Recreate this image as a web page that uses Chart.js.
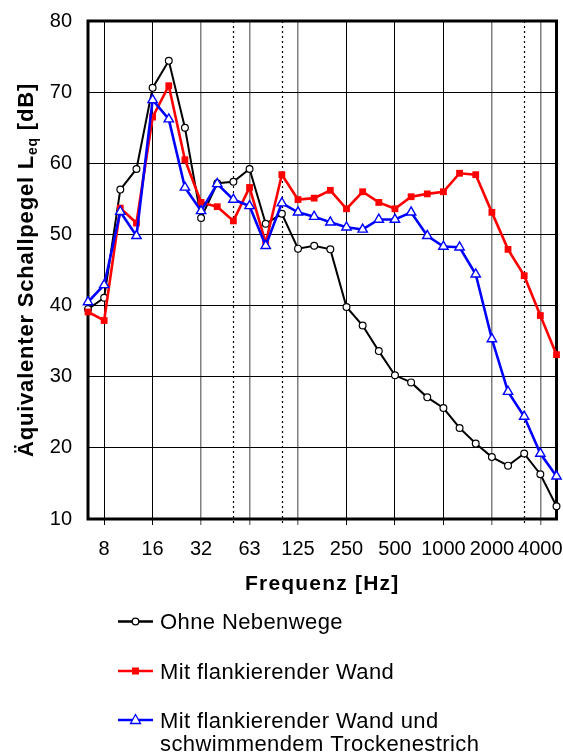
<!DOCTYPE html>
<html>
<head>
<meta charset="utf-8">
<script src="https://cdn.jsdelivr.net/npm/chart.js@4"></script>
<style>
  body { margin: 0; background: #fff; }
  #chart { display: block; }
</style>
</head>
<body>
<canvas id="chart" width="563" height="754"></canvas>
<script>
'use strict'

// terzbaender 6,3 Hz .. 5000 Hz
const frequencies = ['6.3', '8', '10', '12.5', '16', '20', '25', '31.5', '40', '50', '63', '80', '100', '125', '160',
  '200', '250', '315', '400', '500', '630', '800', '1000', '1250', '1600', '2000', '2500', '3150', '4000', '5000']

const ohneNebenwege = [39.5, 41.1, 56.3, 59.2, 70.6, 74.4, 65.0, 52.3, 57.2, 57.4, 59.2, 51.5, 52.9, 48.0, 48.4,
  47.9, 39.8, 37.2, 33.6, 30.2, 29.2, 27.1, 25.6, 22.8, 20.6, 18.7, 17.5, 19.2, 16.3, 11.8]

const mitWand = [39.1, 37.9, 53.7, 51.6, 66.5, 70.9, 60.5, 54.5, 53.9, 51.9, 56.6, 48.8, 58.4, 54.9, 55.1,
  56.2, 53.6, 56.0, 54.5, 53.6, 55.3, 55.7, 56.0, 58.6, 58.4, 53.1, 47.9, 44.2, 38.6, 33.1]

const mitWandEstrich = [40.5, 42.9, 53.2, 49.8, 68.9, 66.2, 56.6, 53.3, 57.1, 54.9, 54.0, 48.4, 54.4, 53.1, 52.5,
  51.7, 51.0, 50.7, 52.1, 52.1, 53.1, 49.8, 48.3, 48.2, 44.4, 35.3, 27.9, 24.4, 19.2, 16.0]

const labeledBands = ['8', '16', '31.5', '63', '125', '250', '500', '1000', '2000', '4000']
const tickText = ['8', '16', '32', '63', '125', '250', '500', '1000', '2000', '4000']
const grayBands = ['31.5', '63', '125', '2000', '4000']
const dottedBands = ['50', '100', '3150']

const yTicks = [10, 20, 30, 40, 50, 60, 70, 80]

const seriesNames = ['Ohne Nebenwege', 'Mit flankierender Wand', 'Mit flankierender Wand und\nschwimmendem Trockenestrich']

const FONT = 'Arial, "Liberation Sans", sans-serif'

const drawMarker = (ctx, style, x, y, color) => {
  ctx.save()
  ctx.lineWidth = 1.3
  ctx.strokeStyle = color
  ctx.beginPath()
  if (style === 'circle') {
    ctx.arc(x, y, 3.3, 0, Math.PI * 2)
    ctx.fillStyle = '#fff'
    ctx.fill()
    ctx.stroke()
  } else if (style === 'rect') {
    ctx.fillStyle = color
    ctx.fillRect(x - 3.5, y - 3.5, 7, 7)
  } else {
    ctx.moveTo(x, y - 5.5)
    ctx.lineTo(x + 5, y + 3.5)
    ctx.lineTo(x - 5, y + 3.5)
    ctx.closePath()
    ctx.fillStyle = '#fff'
    ctx.fill()
    ctx.stroke()
  }
  ctx.restore()
}

const extras = {
  id: 'extras',
  beforeDatasetsDraw (chart) {
    const { ctx, chartArea: a, scales } = chart
    ctx.save()
    // gepunktete linien
    ctx.strokeStyle = '#000'
    ctx.lineWidth = 1.2
    ctx.setLineDash([2, 3])
    dottedBands.forEach((b) => {
      const x = Math.round(scales.x.getPixelForValue(frequencies.indexOf(b))) + 0.5
      ctx.beginPath()
      ctx.moveTo(x, a.top)
      ctx.lineTo(x, a.bottom + 7)
      ctx.stroke()
    })
    ctx.setLineDash([])
    // rahmen
    ctx.lineWidth = 3
    ctx.strokeRect(a.left, a.top, a.right - a.left, a.bottom - a.top)
    ctx.restore()
  },
  afterDraw (chart) {
    const { ctx, chartArea: a } = chart
    ctx.save()
    ctx.fillStyle = '#000'

    // y titel mit index
    ctx.translate(33, (a.top + a.bottom) / 2)
    ctx.rotate(-Math.PI / 2)
    ctx.textBaseline = 'alphabetic'
    ctx.textAlign = 'left'
    ctx.letterSpacing = '0.8px'
    const main = 'Äquivalenter Schallpegel L'
    const sub = 'eq'
    const tail = ' [dB]'
    ctx.font = 'bold 22px ' + FONT
    const w1 = ctx.measureText(main).width
    const w3 = ctx.measureText(tail).width
    ctx.font = 'bold 14px ' + FONT
    const w2 = ctx.measureText(sub).width
    let px = -(w1 + w2 + w3) / 2
    ctx.font = 'bold 22px ' + FONT
    ctx.fillText(main, px, 0)
    px += w1
    ctx.font = 'bold 14px ' + FONT
    ctx.fillText(sub, px, 4)
    px += w2
    ctx.font = 'bold 22px ' + FONT
    ctx.fillText(tail, px, 0)
    ctx.restore()

    // x titel
    ctx.save()
    ctx.font = 'bold 21px ' + FONT
    ctx.letterSpacing = '1.2px'
    ctx.textAlign = 'center'
    ctx.textBaseline = 'middle'
    ctx.fillStyle = '#000'
    ctx.fillText('Frequenz [Hz]', (a.left + a.right) / 2, 584)

    // legende
    ctx.font = '22px ' + FONT
    ctx.letterSpacing = '0.4px'
    ctx.textAlign = 'left'
    ctx.textBaseline = 'alphabetic'
    const rows = [621.5, 671, 720]
    chart.data.datasets.forEach((ds, i) => {
      const y = rows[i]
      ctx.strokeStyle = ds.borderColor
      ctx.lineWidth = 2.5
      ctx.beginPath()
      ctx.moveTo(118, y)
      ctx.lineTo(153, y)
      ctx.stroke()
      drawMarker(ctx, ds.pointStyle, 135.5, y, ds.borderColor)
      ctx.fillStyle = '#000'
      seriesNames[i].split('\n').forEach((line, k) => {
        ctx.fillText(line, 160, y + 7.5 + k * 23)
      })
    })
    ctx.restore()
  }
}

const ctx = document.getElementById('chart')

const myChart = new Chart(ctx, {
  type: 'line',
  data: {
    labels: frequencies,
    datasets: [
      {
        label: seriesNames[0],
        data: ohneNebenwege,
        borderColor: '#000000',
        borderWidth: 2,
        pointStyle: 'circle',
        pointRadius: 3.4,
        pointBorderWidth: 1.2,
        pointBackgroundColor: '#ffffff',
        order: 2
      },
      {
        label: seriesNames[1],
        data: mitWand,
        borderColor: '#ff0000',
        borderWidth: 2.6,
        pointStyle: 'rect',
        pointRadius: 4.8,
        pointBorderWidth: 0,
        pointBackgroundColor: '#ff0000',
        order: 1
      },
      {
        label: seriesNames[2],
        data: mitWandEstrich,
        borderColor: '#0000ff',
        borderWidth: 2.6,
        pointStyle: 'triangle',
        pointRadius: 5.4,
        pointBorderWidth: 1.4,
        pointBackgroundColor: '#ffffff',
        order: 0
      }
    ]
  },
  options: {
    responsive: false,
    animation: false,
    events: [],
    layout: { autoPadding: false, padding: { top: 21, right: 6.5, left: 0, bottom: 0 } },
    elements: { line: { tension: 0 } },
    datasets: { line: { clip: false } },
    plugins: { legend: { display: false }, tooltip: { enabled: false } },
    scales: {
      x: {
        type: 'category',
        offset: false,
        border: { display: false },
        grid: {
          color: (c) => {
            const b = frequencies[c.index]
            if (!labeledBands.includes(b)) return 'rgba(0,0,0,0)'
            return grayBands.includes(b) ? '#808080' : '#000000'
          },
          lineWidth: (c) => grayBands.includes(frequencies[c.index]) ? 1.5 : 1,
          tickLength: 6
        },
        ticks: {
          autoSkip: false,
          maxRotation: 0,
          padding: 12,
          color: '#000',
          font: { family: FONT, size: 20 },
          callback: (value, index) => {
            const i = labeledBands.indexOf(frequencies[index])
            return i >= 0 ? tickText[i] : ''
          }
        },
        afterFit: (scale) => {
          scale.height = 235
          scale.paddingLeft = 0
          scale.paddingRight = 0
        }
      },
      y: {
        min: yTicks[0],
        max: yTicks[yTicks.length - 1],
        border: { display: false },
        grid: { color: '#000000', lineWidth: 1, drawTicks: false },
        afterBuildTicks: (scale) => { scale.ticks = yTicks.map((v) => ({ value: v })) },
        ticks: {
          padding: 16,
          color: '#000',
          font: { family: FONT, size: 20 }
        },
        afterFit: (scale) => {
          scale.width = 88
          scale.paddingTop = 0
          scale.paddingBottom = 0
        }
      }
    }
  },
  plugins: [extras]
})
</script>
</body>
</html>
